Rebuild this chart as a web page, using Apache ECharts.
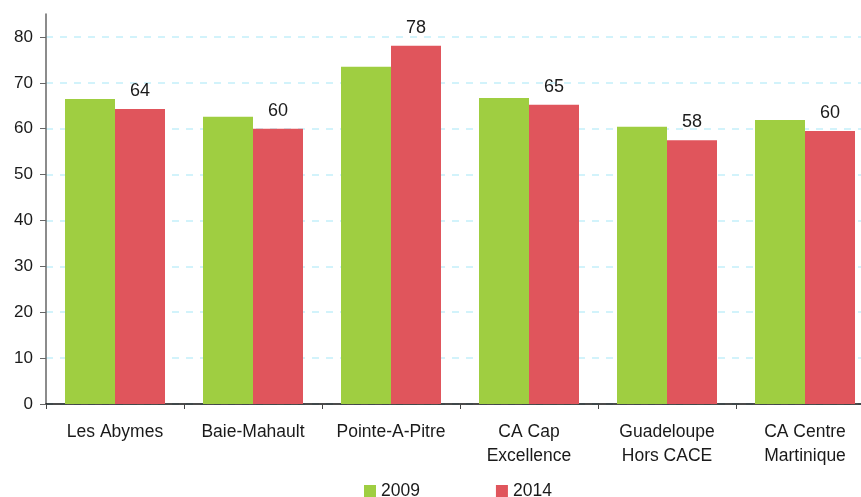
<!DOCTYPE html>
<html><head><meta charset="utf-8">
<script src="https://cdn.jsdelivr.net/npm/echarts@6/dist/echarts.min.js"></script>
<style>html,body{margin:0;padding:0;background:#fff}#c{width:861px;height:497px}</style>
</head><body><div id="c"></div>
<script>
const categories = ["Les Abymes","Baie-Mahault","Pointe-A-Pitre","CA Cap\nExcellence","Guadeloupe\nHors CACE","CA Centre\nMartinique"];
const values2009 = [66.5, 62.6, 73.5, 66.7, 60.4, 61.9];
const values2014 = [64.3, 60.0, 78.1, 65.2, 57.5, 59.5];
const yTicks = [0,10,20,30,40,50,60,70,80];
const font = "'Liberation Sans', Arial, sans-serif";
const chart = echarts.init(document.getElementById('c'), null, {renderer:'canvas'});
chart.setOption({
  animation:false,
  textStyle:{fontFamily:font},
  grid:{left:46,right:-13,top:14,bottom:93,containLabel:false,outerBoundsMode:'none'},
  legend:{
    bottom:-3, left:364, padding:0, itemWidth:12, itemHeight:12, itemGap:76,
    icon:'rect',
    textStyle:{fontFamily:font,fontSize:17.5,color:'#1a1a1a'},
    data:['2009','2014']
  },
  xAxis:{
    type:'category', data:categories,
    axisLine:{lineStyle:{color:'#111',width:1.5}},
    axisTick:{show:true,length:5,lineStyle:{color:'#444'}},
    axisLabel:{fontFamily:font,fontSize:17.5,color:'#1a1a1a',margin:16,lineHeight:24,interval:0}
  },
  yAxis:{
    type:'value', min:0, max:85, interval:10,
    axisLine:{show:true,lineStyle:{color:'#666',width:1.5}},
    axisTick:{show:true,length:6,lineStyle:{color:'#666'},customValues:yTicks},
    axisLabel:{fontFamily:font,fontSize:17,color:'#1a1a1a',margin:13,customValues:yTicks},
    splitLine:{show:true,lineStyle:{color:'#c4f0fa',type:[7,7],width:1.5}}
  },
  series:[
    {name:'2009',type:'bar',data:values2009,itemStyle:{color:'#9fce41'},barWidth:50,barGap:'0%'},
    {name:'2014',type:'bar',data:values2014,itemStyle:{color:'#e0555c'},barWidth:50,barGap:'0%',
     label:{show:true,position:'top',distance:9,fontFamily:font,fontSize:18,color:'#1a1a1a',
       formatter:p=>Math.round(p.value)}}
  ]
});
</script></body></html>
